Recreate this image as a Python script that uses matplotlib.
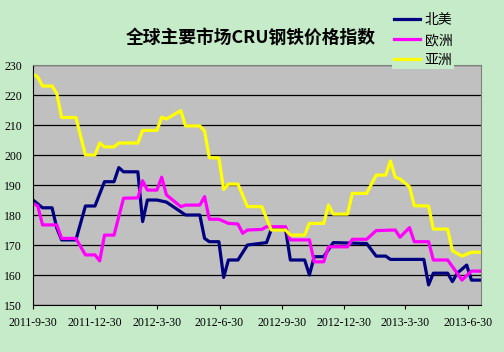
import numpy as np
import matplotlib
matplotlib.use("Agg")
import matplotlib.pyplot as plt

# 周次(从2011-9-30起) 与 指数值
start = np.datetime64("2011-09-30")
na_weeks = [0, 2, 4, 5, 6, 9, 11, 13, 15, 17, 18, 19, 22, 23, 24, 26, 28, 32, 35, 36, 37, 39, 40, 41,
            43, 45, 49, 50, 53, 54, 57, 58, 59, 61, 63, 70, 72, 74, 75, 82, 83, 84, 87, 88, 89, 91, 92, 94]
na_vals = [185, 182.4, 182.4, 175.6, 171.7, 171.7, 183, 183, 191.1, 191.1, 195.8, 194.4, 194.4, 177.8,
           185, 185, 184.3, 180, 180, 172.2, 171.1, 171.1, 159.2, 165, 165, 170, 170.8, 175.2, 175.2,
           165, 165, 160, 166.1, 166.1, 170.8, 170.5, 166.3, 166.3, 165.2, 165.2, 156.7, 160.6, 160.6,
           157.8, 160.6, 163.3, 158.3, 158.3]

eu_weeks = [0, 1, 2, 5, 6, 9, 11, 13, 14, 15, 17, 19, 22, 23, 24, 26, 27, 28, 31, 32, 35, 36, 37, 39,
            41, 43, 44, 45, 48, 49, 53, 54, 58, 59, 61, 62, 66, 67, 70, 72, 76, 77, 79, 80, 83, 84, 87,
            89, 90, 92, 94]
eu_vals = [183.9, 183, 176.7, 176.7, 172.2, 172.2, 166.7, 166.7, 164.7, 173.3, 173.3, 185.6, 185.7,
           191.4, 188.3, 188.3, 192.6, 186.7, 182.8, 183.3, 183.3, 186.1, 178.6, 178.6, 177.2, 177,
           173.9, 175, 175.2, 176.1, 176.1, 171.7, 171.7, 164.4, 164.4, 169.4, 169.4, 171.9, 171.9,
           174.8, 175, 172.6, 175.8, 171.1, 171.1, 165, 165, 160.6, 158.3, 161.3, 161.3]

as_weeks = [0, 1, 2, 4, 5, 6, 9, 11, 13, 14, 15, 17, 18, 22, 23, 26, 27, 28, 31, 32, 35, 36, 37, 39,
            40, 41, 43, 45, 48, 50, 53, 54, 57, 58, 61, 62, 63, 66, 67, 70, 72, 74, 75, 76, 77, 79,
            80, 83, 84, 87, 88, 90, 92, 94]
as_vals = [227, 226, 223, 223, 220.5, 212.5, 212.5, 200, 200, 204, 202.7, 202.7, 204, 204, 208.2,
           208.2, 212.6, 212, 214.8, 209.7, 209.7, 208, 199.1, 199, 188.5, 190.3, 190.3, 182.8, 182.8,
           175, 175, 173.3, 173.3, 177.2, 177.2, 183.3, 180.3, 180.3, 187.2, 187.2, 193.3, 193.3, 198,
           192.6, 192, 189.4, 183.1, 183, 175.3, 175.3, 168.1, 166.3, 167.6, 167.6]

tick_dates = ["2011-09-30", "2011-12-30", "2012-03-30", "2012-06-30",
              "2012-09-30", "2012-12-30", "2013-03-30", "2013-06-30"]
tick_labels = ["2011-9-30", "2011-12-30", "2012-3-30", "2012-6-30",
               "2012-9-30", "2012-12-30", "2013-3-30", "2013-6-30"]
y_ticks = [150, 160, 170, 180, 190, 200, 210, 220, 230]


def to_dates(weeks):
    return start + np.array(weeks) * np.timedelta64(7, "D")


bg = "#C6EBC9"
fig = plt.figure(figsize=(5.04, 3.52), dpi=100, facecolor=bg)
ax = fig.add_axes([33 / 504, 1 - 305 / 352, 448 / 504, 240 / 352])
ax.set_facecolor("#C0C0C0")

ax.plot(to_dates(na_weeks), na_vals, color="#000080", lw=2.3, label="北美")
ax.plot(to_dates(eu_weeks), eu_vals, color="#FF00FF", lw=2.3, label="欧洲")
ax.plot(to_dates(as_weeks), as_vals, color="#FFFF00", lw=2.3, label="亚洲")

ax.set_ylim(150, 230)
ax.set_xlim(start, start + np.timedelta64(658, "D"))
ax.set_yticks(y_ticks)
ax.yaxis.grid(True, color="black", lw=0.9)
ax.set_axisbelow(True)
ax.set_xticks(np.array(tick_dates, dtype="datetime64[D]"))
ax.set_xticklabels(tick_labels)
ax.tick_params(axis="x", length=3, pad=6, direction="out", labelsize=8.5)
ax.tick_params(axis="y", length=0, pad=8, labelsize=8.5)
for lab in ax.get_xticklabels() + ax.get_yticklabels():
    lab.set_fontfamily("Liberation Serif")

for s in ["top", "right"]:
    ax.spines[s].set_color("#808080")
for s in ["left", "bottom"]:
    ax.spines[s].set_color("black")

fig.text(0.497, 1 - 38 / 352, "全球主要市场CRU钢铁价格指数", ha="center", va="center",
         fontsize=12.8, fontweight="bold", family=["Noto Sans CJK SC", "DejaVu Sans"])

leg = fig.legend(loc="upper left", bbox_to_anchor=(392 / 504, 1 - 11 / 352),
                 prop={"family": "Noto Sans CJK SC", "size": 10}, frameon=True,
                 handlelength=1.9, handletextpad=0.3, labelspacing=0.42,
                 borderpad=0.15, borderaxespad=0)
leg.get_frame().set_facecolor(bg)
leg.get_frame().set_edgecolor("none")
leg.get_frame().set_alpha(1)
leg.get_frame().set_boxstyle("square", pad=0)

fig.savefig("out.png", dpi=100, facecolor=bg)
